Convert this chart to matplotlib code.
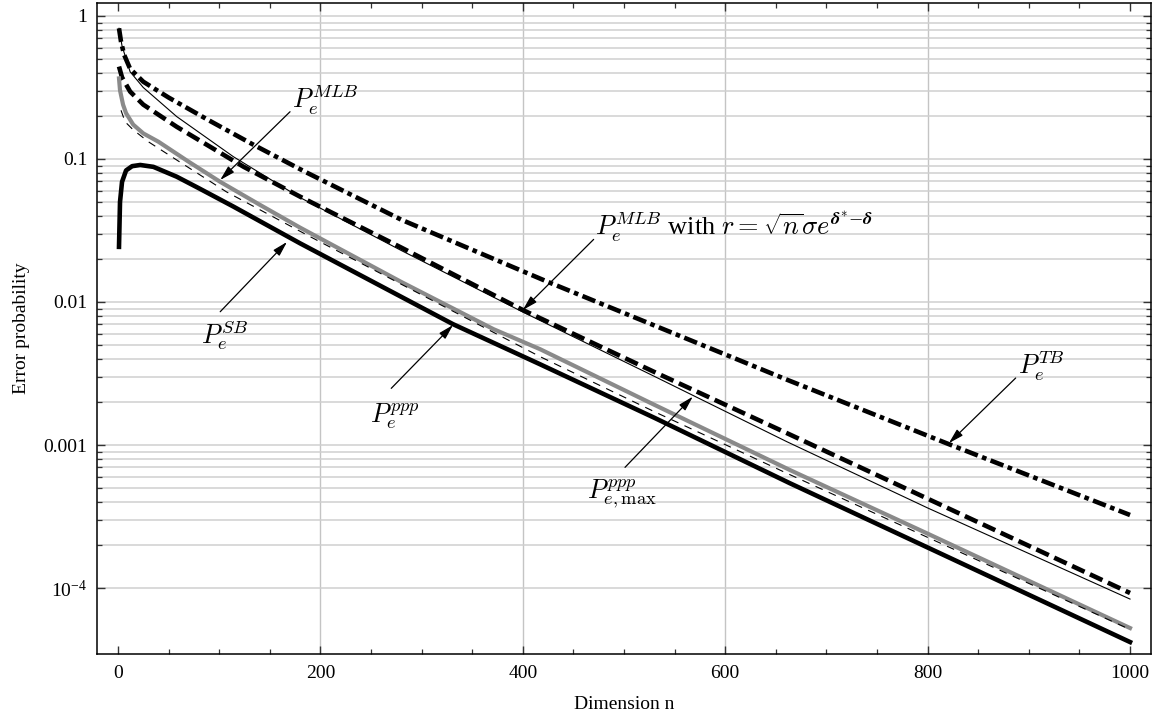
import matplotlib
matplotlib.use('Agg')
import matplotlib.pyplot as plt
from matplotlib.ticker import NullFormatter

# values
n_tb = [1, 3, 6, 12, 25, 50, 90, 135, 185, 280, 425, 660, 820, 1000]
pe_tb = [0.820, 0.661, 0.537, 0.427, 0.347, 0.269, 0.186, 0.1245, 0.0813,
         0.0376, 0.0138, 0.00288, 0.00102, 0.000324]

n_mlb_r = [1, 4, 12, 25, 58, 90, 124, 180, 280, 400, 530, 661, 1000]
pe_mlb_r = [0.443, 0.372, 0.296, 0.240, 0.168, 0.123, 0.0883, 0.0545,
            0.0240, 0.00879, 0.00324, 0.00121, 9.23e-5]

n_mlb = [1, 4, 12, 25, 58, 114, 180, 280, 400, 530, 661, 800, 1000]
pe_mlb = [0.820, 0.617, 0.407, 0.316, 0.198, 0.1038, 0.0537, 0.0229,
          0.00851, 0.00302, 0.001054, 0.000363, 8.37e-5]

n_ppp = [1, 2, 5, 8, 15, 25, 40, 70, 101, 140, 180, 280, 371, 417, 530, 664, 800, 1000]
pe_ppp = [0.366, 0.302, 0.240, 0.209, 0.174, 0.151, 0.132, 0.0955, 0.0692,
          0.0479, 0.0331, 0.0138, 0.00646, 0.00468, 0.00191, 0.000668,
          0.000240, 5.25e-5]

n_pppmax = [3, 7, 15, 30, 58, 107, 190, 280, 417, 530, 661, 800, 1000]
pe_pppmax = [0.219, 0.182, 0.160, 0.132, 0.0984, 0.0590, 0.0286, 0.0133,
             0.00415, 0.00171, 0.000634, 0.000226, 5.13e-5]

n_sb = [1, 2, 4, 8, 14, 22, 35, 58, 80, 114, 180, 260, 331, 417, 530, 664, 800, 1000]
pe_sb = [0.0243, 0.0501, 0.0692, 0.0832, 0.0891, 0.0908, 0.0881, 0.0752,
         0.0624, 0.0465, 0.0257, 0.0129, 0.0070, 0.00367, 0.00155, 0.000540,
         0.000192, 4.19e-5]

# annotations: label, label position, arrow tail, arrow head
labels = [r'$P_e^{MLB}$',
          r'$P_e^{MLB}$ with $r=\sqrt{n}\sigma e^{\boldsymbol{\delta}^{\boldsymbol{*}}\boldsymbol{-}\boldsymbol{\delta}}$',
          r'$P_e^{SB}$', r'$P_e^{ppp}$', r'$P_{e,\max}^{ppp}$', r'$P_e^{TB}$']
label_pos = [(171.5, 0.226), (471, 0.0294), (82, 0.00516), (249, 0.00145),
             (463, 0.000426), (889, 0.00314)]
arrow_tail = [(170, 0.214), (470, 0.0274), (101, 0.00855), (270, 0.00249),
              (501, 0.000698), (887, 0.00294)]
arrow_head = [(101, 0.0713), (400, 0.00879), (167, 0.0263), (331, 0.0069),
              (568, 0.00218), (821, 0.00103)]

xticks = [0, 200, 400, 600, 800, 1000]
xgrid = [200, 400, 600, 800]
yticks = [1e-4, 1e-3, 1e-2, 1e-1, 1]
ytick_labels = [r'$\mathregular{10^{-4}}$', '0.001', '0.01', '0.1', '1']

plt.rcParams['font.family'] = 'serif'
plt.rcParams['font.serif'] = ['Liberation Serif', 'DejaVu Serif']
plt.rcParams['mathtext.fontset'] = 'cm'

fig = plt.figure(figsize=(11.56, 7.25), dpi=100)
ax = fig.add_axes([0.0839, 0.0979, 0.9118, 0.898])

ax.set_yscale('log')
ax.set_xlim(-20.75, 1020.75)
ax.set_ylim(3.455e-5, 1.233)

# grid
yminor = [k * 10.0 ** e for e in range(-4, 0) for k in range(2, 10)]
ax.set_yticks(yticks)
ax.set_yticklabels(ytick_labels)
ax.set_yticks(yminor, minor=True)
ax.yaxis.set_minor_formatter(NullFormatter())
ax.yaxis.grid(True, which='both', color='#cfcfcf', lw=1.1, zorder=0)
for gx in xgrid:
    ax.axvline(gx, color='#c4c4c4', lw=1.0, zorder=0)

ax.set_xticks(xticks)
ax.set_xticks(range(0, 1001, 50), minor=True)

# curves
ax.plot(n_tb, pe_tb, color='black', lw=3.3, ls=(0, (3.0, 1.0, 1.0, 1.0)), zorder=3)
ax.plot(n_mlb_r, pe_mlb_r, color='black', lw=3.3, ls=(0, (3.0, 1.3)), zorder=3)
ax.plot(n_mlb, pe_mlb, color='black', lw=0.8, zorder=4)
ax.plot(n_ppp, pe_ppp, color='#8a8a8a', lw=3.0, zorder=3)
ax.plot(n_pppmax, pe_pppmax, color='black', lw=0.8, ls=(0, (7, 6)), zorder=4)
ax.plot(n_sb, pe_sb, color='black', lw=3.3, zorder=3)

for lab, lp, tl, hd in zip(labels, label_pos, arrow_tail, arrow_head):
    ax.annotate('', xy=hd, xytext=tl,
                arrowprops=dict(arrowstyle='-|>,head_length=0.9,head_width=0.25',
                                color='black', lw=0.9, shrinkA=0, shrinkB=0,
                                mutation_scale=10), zorder=5)
    ax.text(lp[0], lp[1], lab, fontsize=19, ha='left', va='baseline', zorder=5)

ax.tick_params(which='both', direction='in', top=True, right=True,
               labelsize=14, color='#333333')
ax.tick_params(which='major', length=6, width=1.0)
ax.tick_params(which='minor', length=3.5, width=0.9)
ax.tick_params(axis='y', pad=7)
ax.tick_params(axis='x', pad=8)
for sp in ax.spines.values():
    sp.set_linewidth(1.1)

ax.set_xlabel('Dimension n', fontsize=14, labelpad=10)
ax.set_ylabel('Error probability', fontsize=14, labelpad=10)

fig.savefig('out.png', dpi=100)
